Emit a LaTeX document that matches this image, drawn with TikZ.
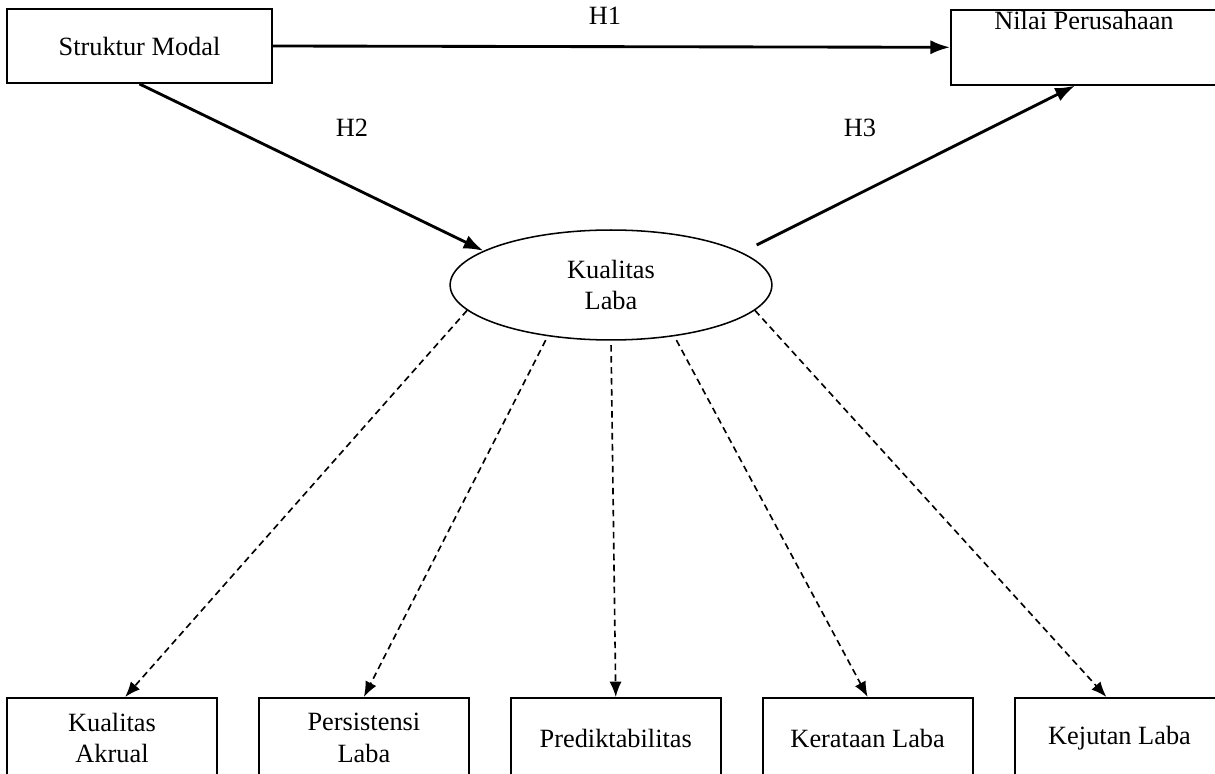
\documentclass[tikz,border=0pt]{standalone}
\usepackage{fontspec}
\setmainfont{Liberation Serif}
\usetikzlibrary{positioning, arrows.meta, shapes.geometric}

\begin{document}
\begin{tikzpicture}[
  x=0.016cm, y=-0.016cm,
  font=\fontsize{12}{14.5}\selectfont,
  var/.style={draw, line width=0.9pt, minimum width=4.24cm, minimum height=1.184cm,
              align=center, inner sep=1pt},
  ind/.style={draw, line width=0.9pt, minimum width=3.36cm, minimum height=1.28cm,
              align=center, inner sep=1pt},
  lat/.style={draw, ellipse, line width=0.7pt, minimum width=5.15cm, minimum height=1.76cm,
              align=center, inner sep=0pt},
  arr/.style={-{Latex[length=9pt, width=6.5pt]}, line width=1.3pt},
  darr/.style={-{Latex[length=7pt, width=5.5pt]}, line width=0.75pt, dash pattern=on 3pt off 2pt},
  lbl/.style={inner sep=1pt},
]
\useasboundingbox (0,0) rectangle (1215,774);

% === Nodes ===

% Variables
\node[var] (sm) at (139.5,46) {Struktur Modal};
\node[var, anchor=north, minimum width=4.256cm, minimum height=0pt, inner ysep=1pt,
      text height=8pt, text depth=24pt] (np) at (1084,9) {Nilai Perusahaan};
\node[lat] (kl) at (611,285) {Kualitas\\Laba};

% Indicators
\node[ind] (b1) at (112,738) {Kualitas\\Akrual};
\node[ind, right=0.64cm of b1] (b2) {Persistensi\\Laba};
\node[ind, right=0.64cm of b2] (b3) {Prediktabilitas};
\node[ind, right=0.64cm of b3] (b4) {Kerataan Laba};
\node[ind, right=0.64cm of b4] (b5) {Kejutan Laba};

% Hypotheses
\node[lbl] (h1) at (605,16) {H1};
\node[lbl] (h2) at (352,128) {H2};
\node[lbl] (h3) at (860,128) {H3};

% === Arrows ===
\draw[arr] (sm.east) -- (np.west);
\draw[arr] (sm.south) -- (kl.165);
\draw[arr, shorten <=7.5pt] (kl.14) -- ([xshift=-0.144cm]np.south);

% Dashed to indicators
\draw[darr] (kl.190) -- ([xshift=0.21cm]b1.north);
\draw[darr, shorten <=2pt] (kl.219) -- (b2.north);
\draw[darr, shorten <=2pt] (kl.south) -- (b3.north);
\draw[darr, shorten <=2pt] (kl.321) -- (b4.north);
\draw[darr] (kl.350) -- ([xshift=-0.21cm]b5.north);

\end{tikzpicture}
\end{document}
